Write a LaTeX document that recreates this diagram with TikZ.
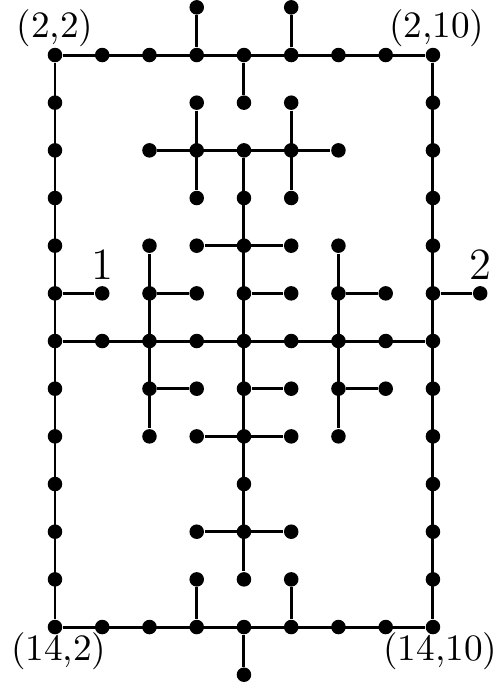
\documentclass[tikz,border=0pt]{standalone}
\usetikzlibrary{positioning}

\begin{document}
\begin{tikzpicture}[x=0.446cm, y=0.45cm,
    vdot/.style={circle, fill=black, inner sep=0pt, minimum size=3.9pt},
    edge/.style={thick}]
  \useasboundingbox (0.836,-0.846) rectangle (11.439,-15.237);

  % frame of the lattice
  \foreach \c in {2,...,10} {
    \node[vdot] (v2-\c)  at (\c,-2)  {};
    \node[vdot] (v14-\c) at (\c,-14) {};
  }
  \foreach \r in {3,...,13} {
    \node[vdot] (v\r-2)  at (2,-\r)  {};
    \node[vdot] (v\r-10) at (10,-\r) {};
  }

  % outside the frame
  \node[vdot] (v1-5)  at (5,-1)   {};
  \node[vdot] (v1-7)  at (7,-1)   {};
  \node[vdot] (v15-6) at (6,-15)  {};
  \node[vdot] (v7-11) at (11,-7)  {};

  % inside the frame
  \foreach \r/\cols in {3/{5,6,7}, 4/{4,5,6,7,8}, 5/{5,6,7}, 6/{4,5,6,7,8},
                        7/{3,4,5,6,7,8,9}, 8/{3,4,5,6,7,8,9}, 9/{4,5,6,7,8,9},
                        10/{4,5,6,7,8}, 11/{6}, 12/{5,6,7}, 13/{5,6,7}}
    \foreach \c in \cols
      \node[vdot] (v\r-\c) at (\c,-\r) {};

  \draw[edge] (v2-2) -- (v2-10) -- (v14-10) -- (v14-2) -- (v2-2);
  \draw[edge] (v1-5) -- (v2-5)  (v1-7) -- (v2-7)  (v2-6) -- (v3-6);
  \draw[edge] (v3-5) -- (v5-5)  (v3-7) -- (v5-7);
  \draw[edge] (v4-4) -- (v4-8)  (v6-5) -- (v6-7);
  \draw[edge] (v4-6) -- (v13-6);
  \draw[edge] (v6-4) -- (v10-4)  (v6-8) -- (v10-8);
  \draw[edge] (v7-2) -- (v7-3)  (v7-4) -- (v7-5)  (v7-6) -- (v7-7)
              (v7-8) -- (v7-9)  (v7-10) -- (v7-11);
  \draw[edge] (v8-2) -- (v8-10);
  \draw[edge] (v9-4) -- (v9-5)  (v9-6) -- (v9-7)  (v9-8) -- (v9-9);
  \draw[edge] (v10-5) -- (v10-7)  (v12-5) -- (v12-7);
  \draw[edge] (v13-5) -- (v14-5)  (v13-7) -- (v14-7)  (v14-6) -- (v15-6);

  % labels
  \node[above=-3.5pt of v2-2]  (l2-2)  {(2,2)};
  \node[above=-3.5pt of v2-10, xshift=1pt] (l2-10) {(2,10)};
  \node[below=-4.3pt of v14-2, xshift=1pt] (l14-2) {(14,2)};
  \node[below=-4.3pt of v14-10, xshift=2pt] (l14-10) {(14,10)};
  \node[above=-2pt of v7-3, font=\large]  (l1) {1};
  \node[above=-2pt of v7-11, font=\large] (l2) {2};
\end{tikzpicture}
\end{document}
